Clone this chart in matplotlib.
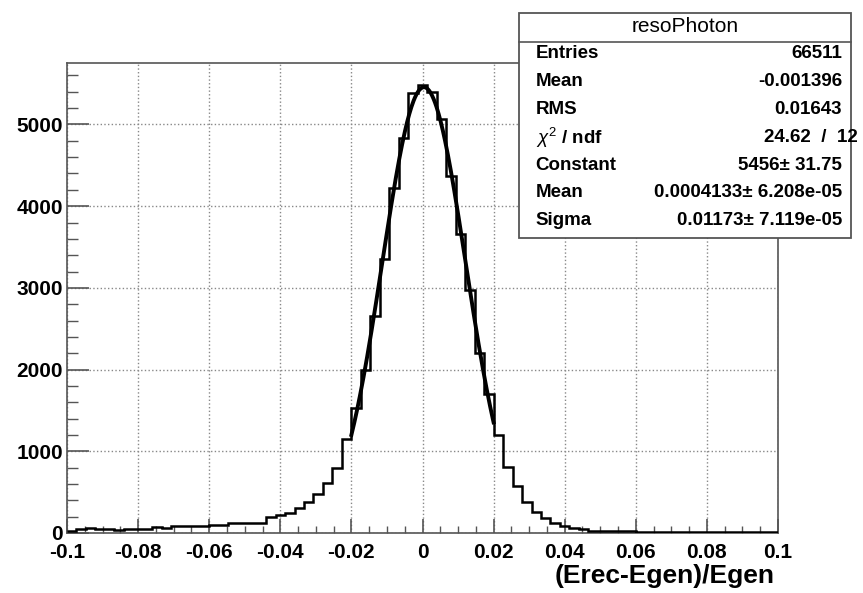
import numpy as np
import matplotlib
matplotlib.use("Agg")
import matplotlib.pyplot as plt
import matplotlib.transforms as mtransforms
from matplotlib.patches import Rectangle
from matplotlib.lines import Line2D
from matplotlib.ticker import MultipleLocator, FuncFormatter

plt.rcParams['font.family'] = ['Liberation Sans', 'DejaVu Sans']
plt.rcParams['mathtext.fontset'] = 'custom'
plt.rcParams['mathtext.rm'] = 'Liberation Sans'
plt.rcParams['mathtext.it'] = 'Liberation Sans:italic'

# histogram: 75 bins in [-0.1, 0.1]
x_min, x_max, n_bins = -0.1, 0.1, 75
counts = [28, 55, 60, 52, 45, 42, 48, 55, 50, 70,
          61, 84, 86, 88, 86, 97, 100, 119, 121, 126,
          128, 192, 220, 241, 310, 376, 473, 608, 800, 1147,
          1526, 1990, 2660, 3350, 4227, 4839, 5382, 5483, 5402, 5063,
          4370, 3660, 2974, 2200, 1698, 1200, 804, 575, 376, 261,
          180, 119, 80, 57, 48, 30, 26, 24, 22, 20,
          16, 15, 14, 14, 12, 13, 11, 12, 10, 11, 9, 10, 9, 8, 9]

# gaus fit parameters (from the stats box)
fit_const = 5456
fit_mean = 0.0004133
fit_sigma = 0.01173
fit_lo, fit_hi = -0.02, 0.02

stat_labels = ['Entries', 'Mean', 'RMS', r'$\chi^{2}$ / ndf', 'Constant', 'Mean', 'Sigma']
stat_values = ['66511', '-0.001396', '0.01643', '24.62  /  12',
               '5456± 31.75', '0.0004133± 6.208e-05', '0.01173± 7.119e-05']

W, H = 863, 593


def fx(x):
    return x / W


def fy(y):
    return 1 - y / H


fig = plt.figure(figsize=(W / 100, H / 100), dpi=100)
ax = fig.add_axes([fx(67), fy(533), (778 - 67) / W, (533 - 62.7) / H])

edges = np.linspace(x_min, x_max, n_bins + 1)
ax.stairs(counts, edges, color='black', lw=1.8, baseline=None, zorder=3)

# fitted gaussian
xf = np.linspace(fit_lo, fit_hi, 200)
yf = fit_const * np.exp(-0.5 * ((xf - fit_mean) / fit_sigma) ** 2)
ax.plot(xf, yf, color='black', lw=2.8, zorder=4)

ax.set_xlim(x_min, x_max)
ax.set_ylim(0, 5756)

ax.xaxis.set_major_locator(MultipleLocator(0.02))
ax.xaxis.set_minor_locator(MultipleLocator(0.005))
ax.yaxis.set_major_locator(MultipleLocator(1000))
ax.yaxis.set_minor_locator(MultipleLocator(200))
ax.xaxis.set_major_formatter(FuncFormatter(lambda v, p: '%g' % round(v, 4) if abs(v) > 1e-9 else '0'))
ax.yaxis.set_major_formatter(FuncFormatter(lambda v, p: '%d' % v))

axis_col = '#555555'
for s in ax.spines.values():
    s.set_color(axis_col)
    s.set_linewidth(1.2)

ax.tick_params(axis='x', which='major', direction='in', length=10, width=1.2,
               color=axis_col, pad=7, labelsize=15)
ax.tick_params(axis='x', which='minor', direction='in', length=5, width=1.0, color=axis_col)
ax.tick_params(axis='y', which='major', direction='in', length=15.5, width=1.2,
               color=axis_col, pad=3, labelsize=15)
ax.tick_params(axis='y', which='minor', direction='in', length=7.7, width=1.0, color=axis_col)
for lab in ax.get_xticklabels() + ax.get_yticklabels():
    lab.set_fontweight('bold')

# lift the "0" on the y axis a little so it clears "-0.1"
fig.canvas.draw()
ylab0 = ax.get_yticklabels()[0]
ylab0.set_transform(ylab0.get_transform() +
                    mtransforms.ScaledTranslation(0, 4 / 100, fig.dpi_scale_trans))

ax.grid(True, which='major', linestyle=':', color='#888888', lw=1.0, zorder=0)
ax.set_axisbelow(True)

fig.text(fx(775), fy(576), '(Erec-Egen)/Egen', ha='right', va='center',
         fontsize=19, fontweight='bold')

# stats box
bx0, by0, bx1, by1 = 519, 12.7, 851, 238
box = Rectangle((fx(bx0), fy(by1)), (bx1 - bx0) / W, (by1 - by0) / H,
                transform=fig.transFigure, facecolor='white', edgecolor=axis_col,
                lw=1.3, zorder=10)
fig.add_artist(box)
fig.add_artist(Line2D([fx(bx0), fx(bx1)], [fy(41.7), fy(41.7)], transform=fig.transFigure,
                      color=axis_col, lw=1.2, zorder=11))
fig.text(fx((bx0 + bx1) / 2), fy(27), 'resoPhoton', ha='center', va='center',
         fontsize=15, zorder=12)

row_y = [53.3, 81, 109, 138, 165, 192.7, 220.7]
for lab, val, yy in zip(stat_labels, stat_values, row_y):
    fig.text(fx(535.7), fy(yy), lab, ha='left', va='center', fontsize=13.5,
             fontweight='bold', zorder=12)
    right = 858 if '/' in val else 842
    fig.text(fx(right), fy(yy), val, ha='right', va='center', fontsize=13.5,
             fontweight='bold', zorder=12)

fig.savefig('out.png', dpi=100)
